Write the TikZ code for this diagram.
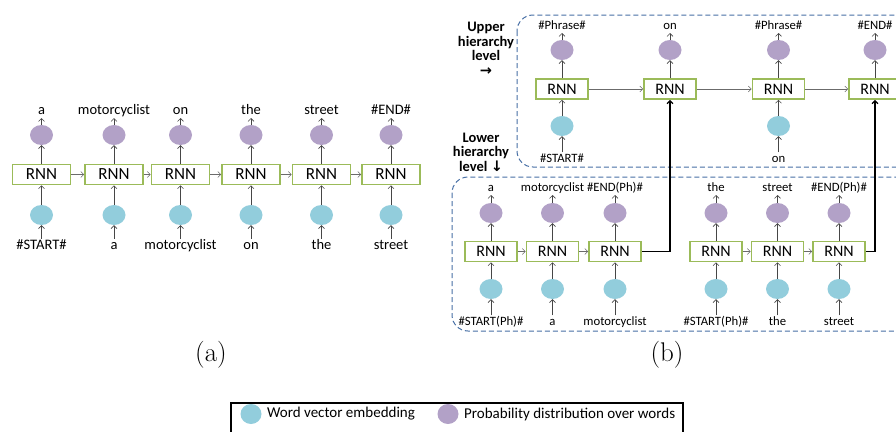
\documentclass[tikz,border=0pt]{standalone}
\usepackage{fontspec}
\setmainfont{Carlito}
\newfontfamily\symf{DejaVu Sans}
\newfontfamily\lmr{Latin Modern Roman}
\usetikzlibrary{shapes.geometric,arrows.meta}
\definecolor{embc}{RGB}{146,205,220}
\definecolor{probc}{RGB}{178,161,199}
\definecolor{rnnc}{RGB}{155,187,89}
\definecolor{dashc}{RGB}{70,110,165}
\definecolor{arrc}{RGB}{70,70,70}
\begin{document}
\begin{tikzpicture}[x=1pt,y=-1pt,
  rnnA/.style={draw=rnnc,line width=1.6pt,fill=white,minimum width=58pt,minimum height=20pt,inner sep=0pt,font=\fontsize{17}{17}\selectfont},
  rnnB/.style={draw=rnnc,line width=1.6pt,fill=white,minimum width=52pt,minimum height=20pt,inner sep=0pt,font=\fontsize{16}{16}\selectfont},
  emb/.style={ellipse,fill=embc,minimum width=23pt,minimum height=20pt,inner sep=0pt},
  prob/.style={ellipse,fill=probc,minimum width=23pt,minimum height=20pt,inner sep=0pt},
  lblA/.style={inner sep=1pt,text height=9.8pt,text depth=2.5pt,font=\fontsize{14.5}{14.5}\selectfont},
  lblB/.style={inner sep=1pt,text height=8.5pt,text depth=2.5pt,font=\fontsize{12.7}{12.7}\selectfont},
  arr/.style={-{Straight Barb[length=3pt,width=6pt]},draw=arrc,line width=0.6pt},
  harr/.style={-{Straight Barb[length=3pt,width=6pt]},draw=arrc!80,line width=0.6pt},
  tharr/.style={-{Straight Barb[length=3pt,width=6pt]},draw=black,line width=1.3pt},
  dbox/.style={draw=dashc,line width=1pt,dash pattern=on 5pt off 3pt,rounded corners=16pt},
  side/.style={align=center,font=\fontsize{14.5}{14.5}\selectfont\bfseries},
  legtext/.style={anchor=west,inner sep=0pt,font=\fontsize{15}{15}\selectfont},
  captxt/.style={font=\lmr\fontsize{27}{27}\selectfont}
]
\useasboundingbox (0,0) rectangle (896,431);

% ---------- panel (a) ----------
\foreach \i/\x/\top/\bot in {1/41.5/a/\#START\#, 2/114/motorcyclist/a, 3/180.5/on/motorcyclist, 4/251/the/on, 5/321.5/street/the, 6/391/\#END\#/street}{
  \node[rnnA] (a\i) at (\x,174.5) {RNN};
  \node[prob] (ap\i) at (\x,135) {};
  \node[emb] (ae\i) at (\x,215) {};
  \node[lblA,anchor=south] (at\i) at (\x,118) {\top};
  \node[lblA] (ab\i) at (\x,246) {\bot};
  \draw[arr] (a\i.north) -- (ap\i.south);
  \draw[arr] (ap\i.north) -- (at\i.south);
  \draw[arr] (ab\i.north) -- (ae\i.south);
  \draw[arr] (ae\i.north) -- (a\i.south);
}
\foreach \i/\j in {1/2,2/3,3/4,4/5,5/6}{
  \draw[harr] (a\i.east) -- (a\j.west);
}

% ---------- panel (b) dashed regions ----------
\draw[dbox] (517,15) rectangle (912,167);
\draw[dbox] (452,177) rectangle (912,331);

\node[side] (upl) at (486,49) {Upper\\hierarchy\\level\\{\symf\bfseries →}};
\node[side] (lowl) at (481,152) {Lower\\hierarchy\\level {\symf ↓}};

% upper level
\foreach \i/\x/\top in {1/562/\#Phrase\#, 2/670/on, 3/778.5/\#Phrase\#, 4/875/\#END\#}{
  \node[rnnB] (u\i) at (\x,89) {RNN};
  \node[prob] (up\i) at (\x,50) {};
  \node[lblB,anchor=south] (ut\i) at (\x,33) {\top};
  \draw[arr] (u\i.north) -- (up\i.south);
  \draw[arr] (up\i.north) -- (ut\i.south);
}
\foreach \i/\bot in {1/\#START\#, 3/on}{
  \node[emb] (ue\i) at (u\i |- 0,126) {};
  \node[lblB] (ub\i) at (u\i |- 0,159) {\bot};
  \draw[arr] (ue\i.north) -- (u\i.south);
  \draw[arr] (ub\i.north) -- (ue\i.south);
}
\foreach \i/\j in {1/2,2/3,3/4}{
  \draw[harr] (u\i.east) -- (u\j.west);
}

% lower level
\foreach \i/\x/\top/\bot in {1/491/a/\#START(Ph)\#, 2/552.5/motorcyclist/a, 3/615/\#END(Ph)\#/motorcyclist, 4/716/the/\#START(Ph)\#, 5/777.5/street/the, 6/839/\#END(Ph)\#/street}{
  \node[rnnB] (l\i) at (\x,251.5) {RNN};
  \node[prob] (lp\i) at (\x,213) {};
  \node[emb] (le\i) at (\x,289) {};
  \node[lblB,anchor=south] (lt\i) at (\x,195) {\top};
  \node[lblB] (lb\i) at (\x,322) {\bot};
  \draw[arr] (l\i.north) -- (lp\i.south);
  \draw[arr] (lp\i.north) -- (lt\i.south);
  \draw[arr] (lb\i.north) -- (le\i.south);
  \draw[arr] (le\i.north) -- (l\i.south);
}
\foreach \i/\j in {1/2,2/3,4/5,5/6}{
  \draw[harr] (l\i.east) -- (l\j.west);
}
\draw[tharr] (l3.east) -| (u2.south);
\draw[tharr] (l6.east) -| (u4.south);

% captions
\node[captxt] (capa) at (211,355) {(a)};
\node[captxt] (capb) at (667,355) {(b)};

% legend
\draw[line width=1.3pt] (231,403) rectangle (683,445);
\node[emb,minimum width=21pt] (lge) at (251,414) {};
\node[legtext] (lgt1) at (267,414) {Word vector embedding};
\node[prob,minimum width=21pt] (lgp) at (448,414) {};
\node[legtext] (lgt2) at (464,414) {Probability distribution over words};
\end{tikzpicture}
\end{document}
